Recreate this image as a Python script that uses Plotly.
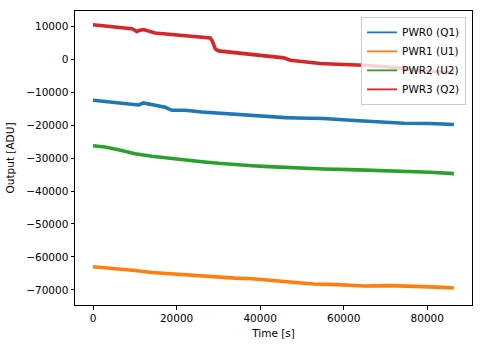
import plotly.graph_objects as go

# ---- data (time in s, output in ADU) ----
t_pwr0 = [0, 4480, 7670, 10860, 12060, 14860, 17260, 18860, 22060, 26060, 30050,
          34040, 38050, 42030, 46030, 48840, 55210, 61620, 68020, 74390, 80800, 86380]
pwr0 = [-12520, -13120, -13520, -13940, -13330, -14120, -14630, -15540, -15540, -16050, -16440,
        -16740, -17040, -17430, -17750, -17860, -18040, -18550, -18940, -19450, -19550, -19850]

t_pwr1 = [0, 6070, 10070, 14070, 18050, 22060, 26060, 30050, 34040, 38050, 42030,
          46030, 48840, 52820, 58420, 64810, 71200, 77600, 83990, 86380]
pwr1 = [-62960, -63470, -64070, -64680, -65070, -65490, -65790, -66280, -66400, -66580, -67000,
        -67250, -67600, -68200, -68390, -68810, -68690, -68810, -69200, -69410]

t_pwr2 = [0, 2880, 6070, 10070, 14070, 18050, 22060, 26060, 30050, 34040, 38050,
          42030, 48840, 55210, 61620, 68020, 74390, 80800, 86380]
pwr2 = [-26300, -26690, -27500, -28710, -29490, -30100, -30700, -31120, -31600, -32030, -32330,
        -32600, -33110, -33320, -33530, -33710, -34140, -34320, -34740]

t_pwr3 = [0, 6070, 9270, 9900, 10470, 11200, 12070, 14860, 18860, 22060, 25250, 28060, 28500,
          28850, 29300, 30050, 33250, 38050, 42840, 45640, 47230, 50430, 54420, 58420, 62410,
          64810, 70400, 78400, 86380]
pwr3 = [10400, 9700, 9190, 8800, 8350, 8700, 8900, 7890, 7380, 6870, 6680, 6380, 5600,
        4150, 3000, 2460, 2040, 1140, 650, 350, -370, -850, -1370, -1570, -1670,
        -1880, -2360, -3570, -4170]

names = ["PWR0 (Q1)", "PWR1 (U1)", "PWR2 (U2)", "PWR3 (Q2)"]
colors = ["#1f77b4", "#ff7f0e", "#2ca02c", "#d62728"]
series = [(t_pwr0, pwr0), (t_pwr1, pwr1), (t_pwr2, pwr2), (t_pwr3, pwr3)]

x_ticks = [0, 20000, 40000, 60000, 80000]
y_ticks = [10000, 0, -10000, -20000, -30000, -40000, -50000, -60000, -70000]

fig = go.Figure()
for (t, v), name, c in zip(series, names, colors):
    fig.add_trace(go.Scatter(x=t, y=v, mode="lines", name=name, showlegend=False,
                             line=dict(color=c, width=3.6)))
# legend entries with thin line samples
for name, c in zip(names, colors):
    fig.add_trace(go.Scatter(x=[None], y=[None], mode="lines", name=name,
                             line=dict(color=c, width=1.8)))

font = dict(family="DejaVu Sans", size=10.5, color="black")
axis_common = dict(showline=True, linecolor="black", linewidth=1, mirror=True,
                   ticks="outside", ticklen=3.5, tickcolor="black", tickwidth=1,
                   showgrid=False, zeroline=False, tickformat="d",
                   tickfont=font, title_font=font)

fig.update_layout(
    width=483, height=347,
    margin=dict(l=75, r=10, t=11, b=40),
    plot_bgcolor="white", paper_bgcolor="white",
    font=font,
    showlegend=True,
    legend=dict(x=0.985, y=0.98, xanchor="right", yanchor="top",
                bgcolor="rgba(255,255,255,0.8)", bordercolor="#cccccc", borderwidth=1,
                font=font, itemwidth=30),
    xaxis=dict(range=[-4320, 90720], tickvals=x_ticks,
               title=dict(text="Time [s]", standoff=6), **axis_common),
    yaxis=dict(range=[-74550, 14550], tickvals=y_ticks,
               title=dict(text="Output [ADU]", standoff=9), **axis_common),
)

fig.write_html("out.html")
